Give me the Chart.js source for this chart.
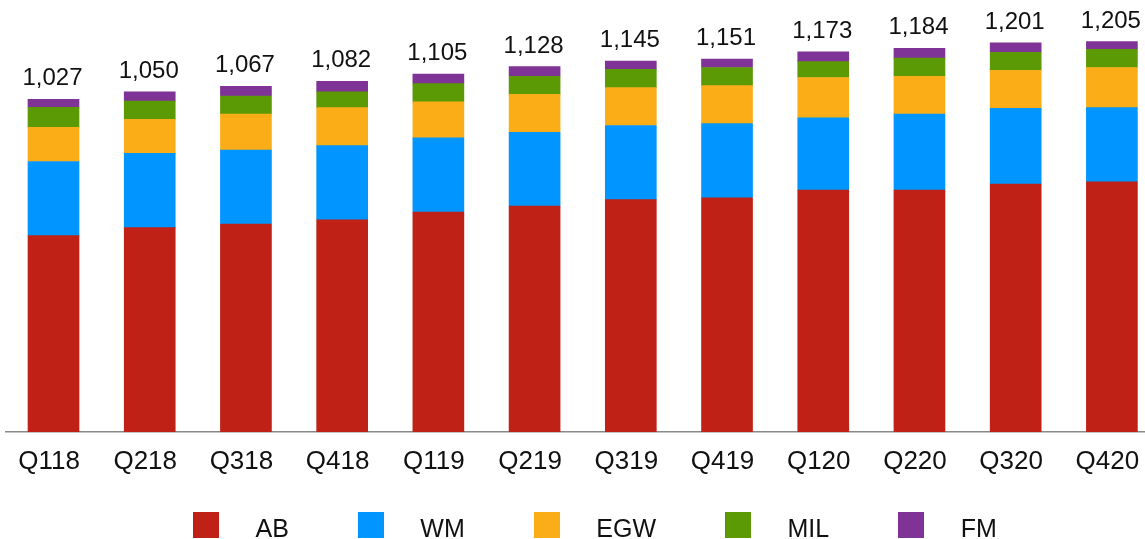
<!DOCTYPE html>
<html>
<head>
<meta charset="utf-8">
<title>Quarterly volume by segment</title>
<script src="https://cdn.jsdelivr.net/npm/chart.js@4.4.1/dist/chart.umd.min.js"></script>
<style>
  html, body { margin: 0; padding: 0; background: #fff; }
  body { width: 1145px; height: 539px; overflow: hidden; position: relative; font-family: "Liberation Sans", Arial, sans-serif; }
  #wrap { position: absolute; left: 0; top: 0; width: 1160px; height: 539px; }
  #legend { position: absolute; left: 193px; top: 512px; display: flex; align-items: flex-start; }
  .item { display: flex; align-items: flex-start; margin-right: 69px; }
  .item:last-child { margin-right: 0; }
  .swatch { width: 26px; height: 26px; margin-right: 36.5px; }
  .label { font-size: 25px; line-height: 25px; margin-top: 4px; color: #111; white-space: nowrap; }
</style>
</head>
<body>
<div id="wrap"><canvas id="chart"></canvas></div>
<div id="legend"></div>
<script>
const quarters = ['Q118', 'Q218', 'Q318', 'Q418', 'Q119', 'Q219', 'Q319', 'Q419', 'Q120', 'Q220', 'Q320', 'Q420'];
const ab  = [606, 631, 642, 655, 679, 697, 717, 723, 747, 747, 765, 772];
const wm  = [229, 229, 228, 229, 229, 228, 229, 229, 223, 234, 234, 229];
const egw = [105, 105, 111, 117, 111, 117, 117, 117, 124, 117, 117, 124];
const mil = [62, 56, 56, 49, 56, 56, 56, 56, 49, 56, 56, 56];
const fm  = [25, 29, 30, 32, 30, 30, 26, 26, 30, 30, 29, 24];

const segments = [
  { label: 'AB',  data: ab,  color: '#BF2116' },
  { label: 'WM',  data: wm,  color: '#0095FF' },
  { label: 'EGW', data: egw, color: '#FBAD18' },
  { label: 'MIL', data: mil, color: '#5B9A05' },
  { label: 'FM',  data: fm,  color: '#7F3397' }
];

const totals = quarters.map((_, i) => segments.reduce((sum, s) => sum + s.data[i], 0));
const FONT = '"Liberation Sans", Arial, sans-serif';

// write the stack total above each column
const stackTotals = {
  id: 'stackTotals',
  afterDatasetsDraw(chart) {
    const ctx = chart.ctx;
    const topMeta = chart.getDatasetMeta(chart.data.datasets.length - 1);
    ctx.save();
    ctx.font = '24px ' + FONT;
    ctx.fillStyle = '#111';
    ctx.textAlign = 'center';
    ctx.textBaseline = 'alphabetic';
    topMeta.data.forEach((bar, i) => {
      ctx.fillText(totals[i].toLocaleString('en-US'), bar.x - 1, bar.y - 14);
    });
    ctx.restore();
  }
};

const chart = new Chart(document.getElementById('chart'), {
  type: 'bar',
  data: {
    labels: quarters,
    datasets: segments.map(s => ({
      label: s.label,
      data: s.data,
      backgroundColor: s.color,
      borderWidth: 0,
      barThickness: 51
    }))
  },
  options: {
    responsive: true,
    maintainAspectRatio: false,
    animation: false,
    layout: { padding: { top: 10.8, left: 5.4, right: 0, bottom: 47 } },
    plugins: {
      legend: { display: false },
      tooltip: { enabled: false }
    },
    scales: {
      x: {
        stacked: true,
        grid: { display: false, drawTicks: false },
        border: { display: true, color: '#8a8a8a', width: 1.5 },
        ticks: {
          color: '#111',
          font: { family: FONT, size: 26 },
          padding: 14,
          labelOffset: -4.5,
          maxRotation: 0,
          autoSkip: false
        },
        afterFit: scale => { scale.height = 60; }
      },
      y: {
        stacked: true,
        display: false,
        min: 0,
        max: 1300
      }
    }
  },
  plugins: [stackTotals]
});

// legend row under the axis
const legend = document.getElementById('legend');
segments.forEach(s => {
  const item = document.createElement('div');
  item.className = 'item';
  const sw = document.createElement('div');
  sw.className = 'swatch';
  sw.style.background = s.color;
  const txt = document.createElement('span');
  txt.className = 'label';
  txt.textContent = s.label;
  item.appendChild(sw);
  item.appendChild(txt);
  legend.appendChild(item);
});
</script>
</body>
</html>
